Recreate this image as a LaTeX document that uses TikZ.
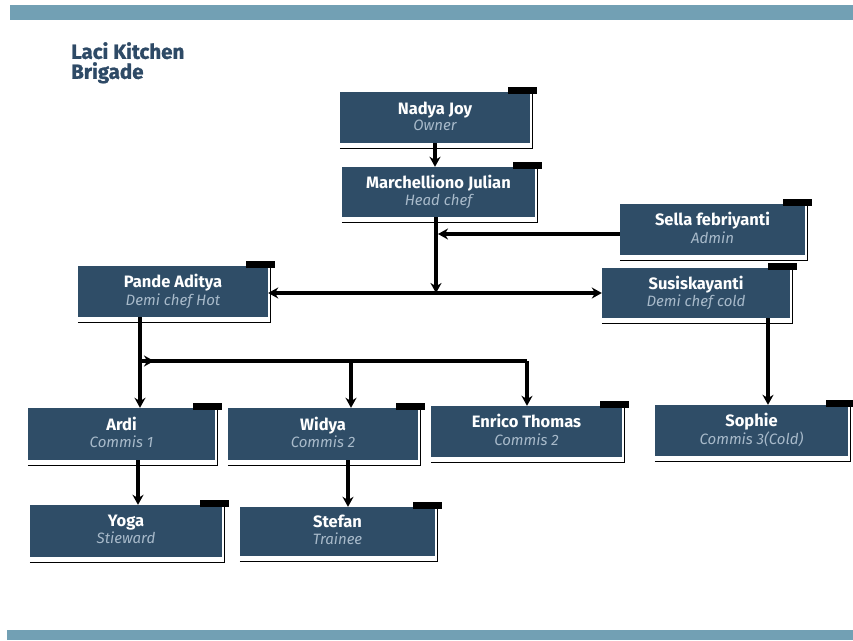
\documentclass[tikz,border=0pt]{standalone}
\usepackage{fontspec}
\setmainfont{Fira Sans}
\newfontfamily\titlefont[FakeBold=1.2]{Fira Sans}
\usetikzlibrary{arrows.meta}
\definecolor{boxblue}{HTML}{2F4D67}
\definecolor{barblue}{HTML}{72A0B4}
\definecolor{titleblue}{HTML}{2E4A66}
\definecolor{rolegray}{HTML}{A8BACA}
\tikzset{
  person/.style={fill=boxblue, inner sep=0pt, align=center, text=white},
  conn/.style={line width=3.2pt, -{Stealth[length=10pt,width=11pt]}},
  plainconn/.style={line width=3.2pt},
  frameline/.style={line width=1.4pt, black},
  tabbar/.style={fill=black},
  bar/.style={fill=barblue},
}
\newcommand\pbox[7]{%
  \node[person, minimum width={(#4-#2)*1pt}, minimum height={(#5-#3)*1pt}]
    (#1) at ({(#2+#4)/2},{(#3+#5)/2})
    {{\bfseries\fontsize{16.5}{18}\selectfont #6\vphantom{Jgy}}\\[1pt]
     {\itshape\fontsize{15}{17}\selectfont\color{rolegray}\vphantom{Jgy}#7}};
  \draw[frameline] ([yshift=-5pt]#1.south west) -| ([xshift=2pt,yshift=4pt]#1.north east);
  \fill[tabbar] ([xshift=-22pt,yshift=5pt]#1.north east) rectangle ([xshift=7pt,yshift=-2pt]#1.north east);
}
\begin{document}
\begin{tikzpicture}[x=1pt,y=-1pt]
\useasboundingbox (0,0) rectangle (853,640);
\fill[bar] (10,5) rectangle (853,20);
\fill[bar] (7,630) rectangle (853,640);
\node[anchor=north west, inner sep=0pt, align=left, text=titleblue,
      font=\titlefont\bfseries\fontsize{20.5}{20}\selectfont] (title) at (71,42)
  {Laci Kitchen\\Brigade};

\pbox{nadya}{340}{92}{530}{143}{Nadya Joy}{Owner}
\pbox{march}{342}{167}{535}{217}{Marchelliono Julian}{Head chef}
\pbox{sella}{620}{204}{805}{255}{Sella febriyanti}{Admin}
\pbox{pande}{78}{266}{268}{317}{Pande Aditya}{Demi chef Hot}
\pbox{susi}{602}{268}{790}{318}{Susiskayanti}{Demi chef cold}
\pbox{ardi}{28}{408}{215}{460}{Ardi}{Commis 1}
\pbox{widya}{228}{408}{418}{460}{Widya}{Commis 2}
\pbox{enrico}{431}{406}{622}{457}{Enrico Thomas}{Commis 2}
\pbox{sophie}{655}{405}{848}{456}{Sophie}{Commis 3(Cold)}
\pbox{yoga}{30}{505}{222}{557}{Yoga}{Stieward}
\pbox{stefan}{240}{507}{435}{556}{Stefan}{Trainee}

% connectors
\coordinate (j) at (436,293);
\coordinate (sj) at (438,234);
\coordinate (b1) at (140,361);
\coordinate (b2) at (351,361);
\coordinate (b3) at (527,361);
\coordinate (cA) at (140,0);
\coordinate (cS) at (768,0);
\coordinate (cY) at (138,0);
\coordinate (cW) at (348,0);

\draw[conn] (nadya.south) -- (nadya.south |- march.north);
\draw[conn] (march.south -| j) -- (j);
\draw[conn] (sella.west |- sj) -- (sj);
\draw[line width=3.2pt, {Stealth[length=10pt,width=11pt]}-{Stealth[length=10pt,width=11pt]}]
  (pande.east |- j) -- (susi.west |- j);
\draw[conn] (pande.south -| cA) -- (ardi.north -| cA);
\draw[plainconn] (b1) -- (b3);
\draw[conn] (b1) -- ([xshift=14pt]b1);
\draw[conn] (b2) -- (widya.north -| b2);
\draw[conn] (b3) -- (enrico.north -| b3);
\draw[conn] (susi.south -| cS) -- (sophie.north -| cS);
\draw[conn] (ardi.south -| cY) -- (yoga.north -| cY);
\draw[conn] (widya.south -| cW) -- (stefan.north -| cW);
\end{tikzpicture}
\end{document}
